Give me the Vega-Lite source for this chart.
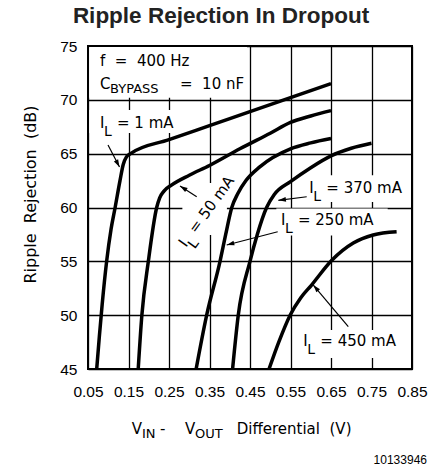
{
  "$schema": "https://vega.github.io/schema/vega-lite/v6.json",
  "width": 324,
  "height": 323,
  "autosize": "none",
  "padding": {"left": 88, "top": 46, "right": 25, "bottom": 100},
  "background": "white",
  "title": {"text": "Ripple Rejection In Dropout", "font": "Liberation Sans", "fontSize": 22.5, "fontWeight": "bold", "color": "#222", "anchor": "middle", "dx": -29, "offset": 12},
  "config": {
    "view": {"stroke": "#000", "strokeWidth": 2},
    "axis": {"grid": true, "gridColor": "#000", "gridWidth": 1.3, "gridOpacity": 1, "domain": false, "ticks": false, "labelFont": "Liberation Sans", "labelFontSize": 15.5, "labelColor": "#000", "labelOverlap": false, "labelFlush": false}
  },
  "datasets": {
    "curves": [
      {"I": "1 mA", "x": 0.0715, "y": 45}, {"I": "1 mA", "x": 0.078, "y": 48}, {"I": "1 mA", "x": 0.085, "y": 51}, {"I": "1 mA", "x": 0.096, "y": 55}, {"I": "1 mA", "x": 0.107, "y": 58}, {"I": "1 mA", "x": 0.117, "y": 60}, {"I": "1 mA", "x": 0.129, "y": 62.5}, {"I": "1 mA", "x": 0.137, "y": 64}, {"I": "1 mA", "x": 0.145, "y": 64.7}, {"I": "1 mA", "x": 0.155, "y": 65.0}, {"I": "1 mA", "x": 0.25, "y": 66.3}, {"I": "1 mA", "x": 0.35, "y": 67.6}, {"I": "1 mA", "x": 0.45, "y": 68.9}, {"I": "1 mA", "x": 0.55, "y": 70.2}, {"I": "1 mA", "x": 0.65, "y": 71.5},
      {"I": "50 mA", "x": 0.174, "y": 45}, {"I": "50 mA", "x": 0.183, "y": 50}, {"I": "50 mA", "x": 0.199, "y": 55}, {"I": "50 mA", "x": 0.2196, "y": 60}, {"I": "50 mA", "x": 0.227, "y": 60.9}, {"I": "50 mA", "x": 0.237, "y": 61.5}, {"I": "50 mA", "x": 0.257, "y": 62.1}, {"I": "50 mA", "x": 0.30, "y": 63.0}, {"I": "50 mA", "x": 0.35, "y": 63.9}, {"I": "50 mA", "x": 0.425, "y": 65.45}, {"I": "50 mA", "x": 0.50, "y": 66.9}, {"I": "50 mA", "x": 0.55, "y": 67.9}, {"I": "50 mA", "x": 0.60, "y": 68.5}, {"I": "50 mA", "x": 0.65, "y": 69.0},
      {"I": "250 mA", "x": 0.317, "y": 45}, {"I": "250 mA", "x": 0.343, "y": 50}, {"I": "250 mA", "x": 0.376, "y": 55}, {"I": "250 mA", "x": 0.390, "y": 57.5}, {"I": "250 mA", "x": 0.405, "y": 60}, {"I": "250 mA", "x": 0.42, "y": 61.3}, {"I": "250 mA", "x": 0.44, "y": 62.5}, {"I": "250 mA", "x": 0.475, "y": 63.8}, {"I": "250 mA", "x": 0.55, "y": 65.45}, {"I": "250 mA", "x": 0.60, "y": 66.0}, {"I": "250 mA", "x": 0.65, "y": 66.4},
      {"I": "370 mA", "x": 0.407, "y": 45}, {"I": "370 mA", "x": 0.421, "y": 50}, {"I": "370 mA", "x": 0.45, "y": 55}, {"I": "370 mA", "x": 0.468, "y": 57.5}, {"I": "370 mA", "x": 0.491, "y": 60}, {"I": "370 mA", "x": 0.51, "y": 61.2}, {"I": "370 mA", "x": 0.55, "y": 62.4}, {"I": "370 mA", "x": 0.60, "y": 63.7}, {"I": "370 mA", "x": 0.65, "y": 64.8}, {"I": "370 mA", "x": 0.70, "y": 65.5}, {"I": "370 mA", "x": 0.75, "y": 65.96},
      {"I": "450 mA", "x": 0.497, "y": 45}, {"I": "450 mA", "x": 0.521, "y": 47.5}, {"I": "450 mA", "x": 0.549, "y": 50}, {"I": "450 mA", "x": 0.575, "y": 51.6}, {"I": "450 mA", "x": 0.602, "y": 52.8}, {"I": "450 mA", "x": 0.652, "y": 55.1}, {"I": "450 mA", "x": 0.705, "y": 56.7}, {"I": "450 mA", "x": 0.754, "y": 57.45}, {"I": "450 mA", "x": 0.812, "y": 57.75}
    ],
    "boxes": [
      {"x": 0.053, "x2": 0.4426, "y": 70.2, "y2": 74.9},
      {"x": 0.053, "x2": 0.272, "y": 66.92, "y2": 69.06},
      {"x": 0.283, "x2": 0.393, "y": 57.45, "y2": 62.28},
      {"x": 0.581, "x2": 0.845, "y": 60.5, "y2": 63.0},
      {"x": 0.515, "x2": 0.79, "y": 57.4, "y2": 59.9},
      {"x": 0.571, "x2": 0.833, "y": 46.02, "y2": 48.62}
    ],
    "arrows": [
      {"x": 0.0994, "y": 65.81, "x2": 0.1278, "y2": 63.76},
      {"x": 0.3184, "y": 61.0, "x2": 0.2772, "y2": 62.0},
      {"x": 0.590, "y": 61.0, "x2": 0.520, "y2": 60.67},
      {"x": 0.5184, "y": 57.75, "x2": 0.3925, "y2": 56.52},
      {"x": 0.6927, "y": 48.93, "x2": 0.6063, "y2": 52.8}
    ],
    "frags": [
      {"x": 0.0796, "y": 73.14, "t": "f\u00a0 =\u00a0 400 Hz", "role": "main"},
      {"x": 0.0796, "y": 70.98, "t": "C", "role": "main"},
      {"x": 0.1043, "y": 70.61, "t": "BYPASS", "role": "sub"},
      {"x": 0.2772, "y": 70.98, "t": "=\u00a0 10 nF", "role": "main"},
      {"x": 0.1579, "y": 38.96, "t": "V", "role": "main"},
      {"x": 0.1833, "y": 38.59, "t": "IN", "role": "sub"},
      {"x": 0.2278, "y": 38.96, "t": "-", "role": "main"},
      {"x": 0.2895, "y": 38.96, "t": "V", "role": "main"},
      {"x": 0.3142, "y": 38.59, "t": "OUT", "role": "sub"},
      {"x": 0.4172, "y": 38.96, "t": "Differential\u00a0 (V)", "role": "main"}
    ],
    "il": [
      {"x": 0.0796, "y": 67.36, "rest": "= 1 mA"},
      {"x": 0.5964, "y": 61.32, "rest": "= 370 mA"},
      {"x": 0.5265, "y": 58.37, "rest": "= 250 mA"},
      {"x": 0.5816, "y": 47.09, "rest": "= 450 mA"}
    ],
    "ilrot": [
      {"x": 0.292, "y": 56.24, "rest": "= 50 mA"}
    ],
    "code": [
      {"x": 0.887, "y": 36.18, "t": "10133946"}
    ]
  },
  "encoding": {
    "x": {"field": "x", "type": "quantitative", "scale": {"domain": [0.05, 0.85], "nice": false, "zero": false},
      "axis": {"values": [0.05, 0.15, 0.25, 0.35, 0.45, 0.55, 0.65, 0.75, 0.85], "format": ".2f", "title": null, "labelPadding": 15}},
    "y": {"field": "y", "type": "quantitative", "scale": {"domain": [45, 75], "nice": false, "zero": false},
      "axis": {"values": [45, 50, 55, 60, 65, 70, 75], "title": "Ripple\u00a0 Rejection\u00a0 (dB)", "titleFont": "DejaVu Sans", "titleFontSize": 16, "titleFontWeight": "normal", "titleColor": "#000", "titleX": -58, "titleY": 148, "titleBaseline": "middle", "titleAlign": "center", "labelPadding": 11}}
  },
  "layer": [
    {"data": {"name": "boxes"}, "mark": {"type": "rect", "fill": "white", "stroke": null},
      "encoding": {"x2": {"field": "x2"}, "y2": {"field": "y2"}}},
    {"data": {"name": "curves"}, "mark": {"type": "line", "color": "#000", "strokeWidth": 3.5, "interpolate": "monotone", "clip": true},
      "encoding": {"detail": {"field": "I", "type": "nominal"}}},
    {"data": {"name": "arrows"}, "mark": {"type": "rule", "color": "#000", "strokeWidth": 1.2},
      "encoding": {"x2": {"field": "x2"}, "y2": {"field": "y2"}}},
    {"data": {"name": "arrows"}, "mark": {"type": "point", "shape": "M0,0L0.75,2.4L-0.75,2.4Z", "filled": true, "color": "#000", "opacity": 1, "size": 40, "angle": {"expr": "atan2((datum.x2-datum.x)*405,(datum.y2-datum.y)*10.767)*180/PI"}},
      "encoding": {"x": {"field": "x2", "type": "quantitative"}, "y": {"field": "y2", "type": "quantitative"}}},
    {"data": {"name": "frags"}, "transform": [{"filter": "datum.role === 'main'"}],
      "mark": {"type": "text", "align": "left", "baseline": "alphabetic", "font": "DejaVu Sans", "fontSize": 15, "color": "#000"},
      "encoding": {"text": {"field": "t"}}},
    {"data": {"name": "frags"}, "transform": [{"filter": "datum.role === 'sub'"}],
      "mark": {"type": "text", "align": "left", "baseline": "alphabetic", "font": "DejaVu Sans", "fontSize": 13, "color": "#000"},
      "encoding": {"text": {"field": "t"}}},
    {"data": {"name": "il"}, "mark": {"type": "text", "text": "I", "align": "left", "baseline": "alphabetic", "font": "DejaVu Sans", "fontSize": 15, "color": "#000"}},
    {"data": {"name": "il"}, "mark": {"type": "text", "text": "L", "align": "left", "baseline": "alphabetic", "font": "DejaVu Sans", "fontSize": 14, "color": "#000", "dx": 4, "dy": 8}},
    {"data": {"name": "il"}, "mark": {"type": "text", "align": "left", "baseline": "alphabetic", "font": "DejaVu Sans", "fontSize": 15, "color": "#000", "dx": 17},
      "encoding": {"text": {"field": "rest"}}},
    {"data": {"name": "ilrot"}, "mark": {"type": "text", "text": "I", "angle": -54, "align": "left", "baseline": "alphabetic", "font": "DejaVu Sans", "fontSize": 15, "color": "#000"}},
    {"data": {"name": "ilrot"}, "mark": {"type": "text", "text": "L", "angle": -54, "align": "left", "baseline": "alphabetic", "font": "DejaVu Sans", "fontSize": 14, "color": "#000", "dx": 4, "dy": 8}},
    {"data": {"name": "ilrot"}, "mark": {"type": "text", "angle": -54, "align": "left", "baseline": "alphabetic", "font": "DejaVu Sans", "fontSize": 15, "color": "#000", "dx": 17},
      "encoding": {"text": {"field": "rest"}}},
    {"data": {"name": "code"}, "mark": {"type": "text", "align": "right", "baseline": "alphabetic", "font": "Liberation Sans", "fontSize": 12, "color": "#000"},
      "encoding": {"text": {"field": "t"}}}
  ]
}
